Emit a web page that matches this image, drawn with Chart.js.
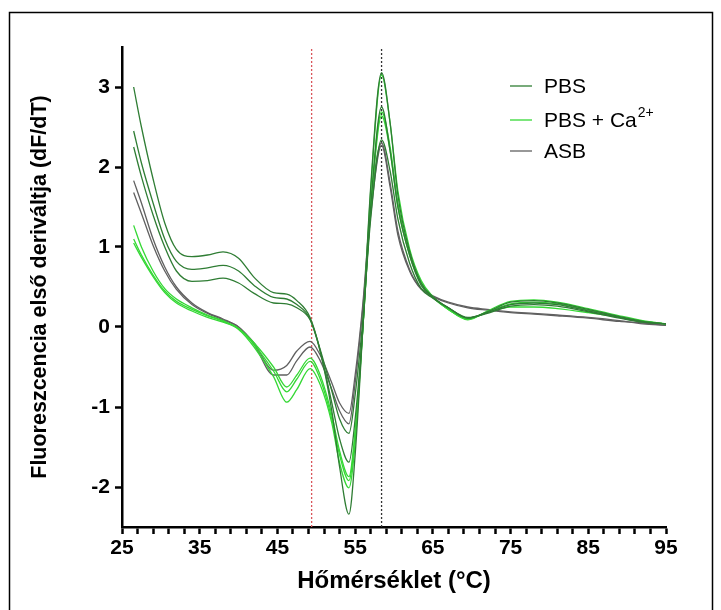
<!DOCTYPE html>
<html>
<head>
<meta charset="utf-8">
<script src="https://cdn.jsdelivr.net/npm/chart.js@4.4.1/dist/chart.umd.min.js"></script>
<style>
  html, body { margin: 0; padding: 0; background: #fff; }
  #wrap { width: 721px; height: 610px; }
</style>
</head>
<body>
<div id="wrap"><canvas id="chart_dsf"></canvas></div>
<script>
// temperature grid (°C) shared by every trace
const temps = [26.5, 27.5, 29, 30.5, 32, 34, 36, 38, 40, 42, 44.5, 46.2, 47.5, 49.2, 50.5, 52, 53, 54.2, 55, 56, 57, 58.4, 59.5, 60.5, 62, 63.5, 65, 67, 69.5, 72, 75, 78, 81, 85, 89, 92, 95];

// PBS
const pbs1 = [3.0, 2.5, 1.85, 1.3, 0.97, 0.88, 0.9, 0.94, 0.86, 0.62, 0.43, 0.41, 0.33, 0.12, -0.3, -1.05, -1.75, -2.34, -1.6, 0.0, 1.75, 3.18, 2.55, 1.65, 0.95, 0.55, 0.38, 0.24, 0.11, 0.19, 0.31, 0.33, 0.3, 0.22, 0.13, 0.07, 0.04];
const pbs2 = [2.45, 2.05, 1.55, 1.1, 0.82, 0.72, 0.74, 0.77, 0.7, 0.52, 0.37, 0.35, 0.28, 0.1, -0.3, -0.95, -1.4, -1.69, -1.15, 0.0, 1.5, 2.75, 2.2, 1.5, 0.9, 0.52, 0.37, 0.24, 0.11, 0.18, 0.28, 0.3, 0.28, 0.2, 0.12, 0.06, 0.04];
const pbs3 = [2.25, 1.88, 1.4, 1.0, 0.7, 0.57, 0.58, 0.61, 0.55, 0.42, 0.3, 0.29, 0.24, 0.09, -0.28, -0.8, -1.15, -1.33, -0.85, 0.1, 1.35, 2.34, 1.95, 1.35, 0.8, 0.48, 0.36, 0.24, 0.12, 0.17, 0.26, 0.28, 0.26, 0.19, 0.11, 0.06, 0.04];

// PBS + Ca2+
const ca1 = [1.27, 1.0, 0.7, 0.48, 0.35, 0.24, 0.15, 0.08, -0.02, -0.2, -0.5, -0.75, -0.6, -0.39, -0.6, -1.1, -1.55, -1.87, -1.3, 0.0, 1.7, 3.15, 2.55, 1.7, 0.98, 0.58, 0.38, 0.22, 0.09, 0.2, 0.32, 0.34, 0.31, 0.23, 0.14, 0.08, 0.04];
const ca2 = [1.1, 0.9, 0.65, 0.45, 0.32, 0.22, 0.14, 0.07, -0.02, -0.22, -0.55, -0.81, -0.65, -0.43, -0.65, -1.15, -1.6, -1.92, -1.35, 0.0, 1.5, 2.69, 2.25, 1.55, 0.92, 0.55, 0.37, 0.22, 0.1, 0.19, 0.29, 0.31, 0.29, 0.21, 0.13, 0.07, 0.04];
const ca3 = [1.05, 0.87, 0.63, 0.43, 0.3, 0.2, 0.12, 0.06, -0.03, -0.25, -0.62, -0.94, -0.78, -0.52, -0.72, -1.2, -1.7, -2.01, -1.45, 0.0, 1.45, 2.64, 2.2, 1.5, 0.9, 0.54, 0.37, 0.22, 0.1, 0.18, 0.25, 0.25, 0.23, 0.18, 0.12, 0.07, 0.04];

// ASB
const asb1 = [1.83, 1.55, 1.1, 0.75, 0.5, 0.3, 0.18, 0.1, 0.0, -0.2, -0.54, -0.48, -0.3, -0.18, -0.35, -0.7, -0.95, -1.08, -0.6, 0.3, 1.5, 2.3, 1.8, 1.2, 0.72, 0.48, 0.39, 0.31, 0.25, 0.22, 0.19, 0.17, 0.15, 0.12, 0.08, 0.04, 0.02];
const asb2 = [1.68, 1.42, 1.02, 0.7, 0.47, 0.28, 0.17, 0.09, 0.0, -0.22, -0.6, -0.6, -0.42, -0.25, -0.42, -0.78, -1.05, -1.21, -0.7, 0.25, 1.4, 2.27, 1.75, 1.15, 0.7, 0.47, 0.38, 0.3, 0.24, 0.21, 0.18, 0.16, 0.14, 0.11, 0.07, 0.05, 0.02];

// reference lines (°C)
const markerRed = 49.4;
const markerBlack = 58.4;

const yTicks = [-2, -1, 0, 1, 2, 3];
const xLabels = [25, 35, 45, 55, 65, 75, 85, 95];

const legendNames = ['PBS', 'PBS + Ca', 'ASB'];
const colPBS = '#2f7d34';
const colCa = '#35d835';
const colASB = '#606060';

const fontFam = '"Liberation Sans", Arial, sans-serif';

function trace(label, vals, color) {
    return {
        label: label,
        data: temps.map((t, i) => ({ x: t, y: vals[i] })),
        borderColor: color,
        borderWidth: 1.3,
        pointRadius: 0,
        fill: false,
        cubicInterpolationMode: 'monotone'
    };
}
function vline(label, xv, color) {
    return {
        label: label,
        data: [{ x: xv, y: -2.5 }, { x: xv, y: 3.5 }],
        borderColor: color,
        borderWidth: 1.3,
        borderDash: [2, 2],
        pointRadius: 0,
        fill: false
    };
}

const frameAndLegend = {
    id: 'frameAndLegend',
    beforeDraw: (chart) => {
        const ctx = chart.ctx;
        ctx.save();
        ctx.fillStyle = 'white';
        ctx.fillRect(0, 0, chart.width, chart.height);
        ctx.strokeStyle = '#000';
        ctx.lineWidth = 1.5;
        ctx.strokeRect(9.5, 12.5, 703, 700);
        ctx.restore();
    },
    afterDraw: (chart) => {
        const ctx = chart.ctx;
        const cols = [colPBS, colCa, colASB];
        const rows = [86, 120, 151];
        ctx.save();
        ctx.textBaseline = 'middle';
        for (let i = 0; i < legendNames.length; i++) {
            ctx.strokeStyle = cols[i];
            ctx.lineWidth = 1.3;
            ctx.beginPath();
            ctx.moveTo(510, rows[i]);
            ctx.lineTo(532, rows[i]);
            ctx.stroke();
            ctx.fillStyle = '#000';
            ctx.font = '21px ' + fontFam;
            ctx.fillText(legendNames[i], 544, rows[i] + 1);
            if (i === 1) {
                const w = ctx.measureText(legendNames[i]).width;
                ctx.font = '14px ' + fontFam;
                ctx.fillText('2+', 544 + w + 1, rows[i] - 7);
            }
        }
        ctx.restore();
    }
};

var chart_dsf = new Chart(document.getElementById('chart_dsf'), {
    type: 'line',
    data: {
        datasets: [
            trace('PBS', pbs1, colPBS),
            trace('PBS', pbs2, colPBS),
            trace('PBS', pbs3, colPBS),
            trace('PBS + Ca2+', ca1, colCa),
            trace('PBS + Ca2+', ca2, colCa),
            trace('PBS + Ca2+', ca3, colCa),
            trace('ASB', asb1, colASB),
            trace('ASB', asb2, colASB),
            vline('red marker', markerRed, '#d9555b'),
            vline('black marker', markerBlack, '#333333')
        ]
    },
    options: {
        animation: false,
        responsive: true,
        maintainAspectRatio: false,
        layout: { padding: { left: 0, right: 55, top: 47, bottom: 0 } },
        plugins: {
            legend: { display: false },
            tooltip: { enabled: false }
        },
        scales: {
            x: {
                type: 'linear',
                min: 25,
                max: 95,
                afterBuildTicks: (s) => {
                    const t = [];
                    for (let v = 25; v <= 95; v += 2) t.push({ value: v });
                    s.ticks = t;
                },
                afterFit: (s) => { s.height = 83; },
                ticks: {
                    autoSkip: false,
                    maxRotation: 0,
                    padding: 2,
                    color: '#000',
                    font: { family: fontFam, size: 21, weight: 'bold' },
                    callback: (v) => xLabels.includes(v) ? String(v) : ''
                },
                grid: { drawOnChartArea: false, drawTicks: true, tickLength: 7, tickWidth: 2.5, tickColor: '#000' },
                border: { display: true, color: '#000', width: 2.5 },
                title: {
                    display: true,
                    text: 'Hőmérséklet (°C)',
                    color: '#000',
                    font: { family: fontFam, size: 24, weight: 'bold' },
                    padding: { top: 0, bottom: 14 }
                }
            },
            y: {
                type: 'linear',
                min: -2.5,
                max: 3.5,
                afterBuildTicks: (s) => { s.ticks = yTicks.map(v => ({ value: v })); },
                afterFit: (s) => { s.width = 122; },
                ticks: {
                    padding: 5,
                    color: '#000',
                    font: { family: fontFam, size: 21, weight: 'bold' },
                    callback: (v) => String(v)
                },
                grid: { drawOnChartArea: false, drawTicks: true, tickLength: 7, tickWidth: 2.5, tickColor: '#000' },
                border: { display: true, color: '#000', width: 2.5 },
                title: {
                    display: true,
                    text: 'Fluoreszcencia első deriváltja (dF/dT)',
                    color: '#000',
                    font: { family: fontFam, size: 21.5, weight: 'bold' },
                    padding: { top: 27, bottom: 0 }
                }
            }
        }
    },
    plugins: [frameAndLegend]
});
</script>
</body>
</html>
